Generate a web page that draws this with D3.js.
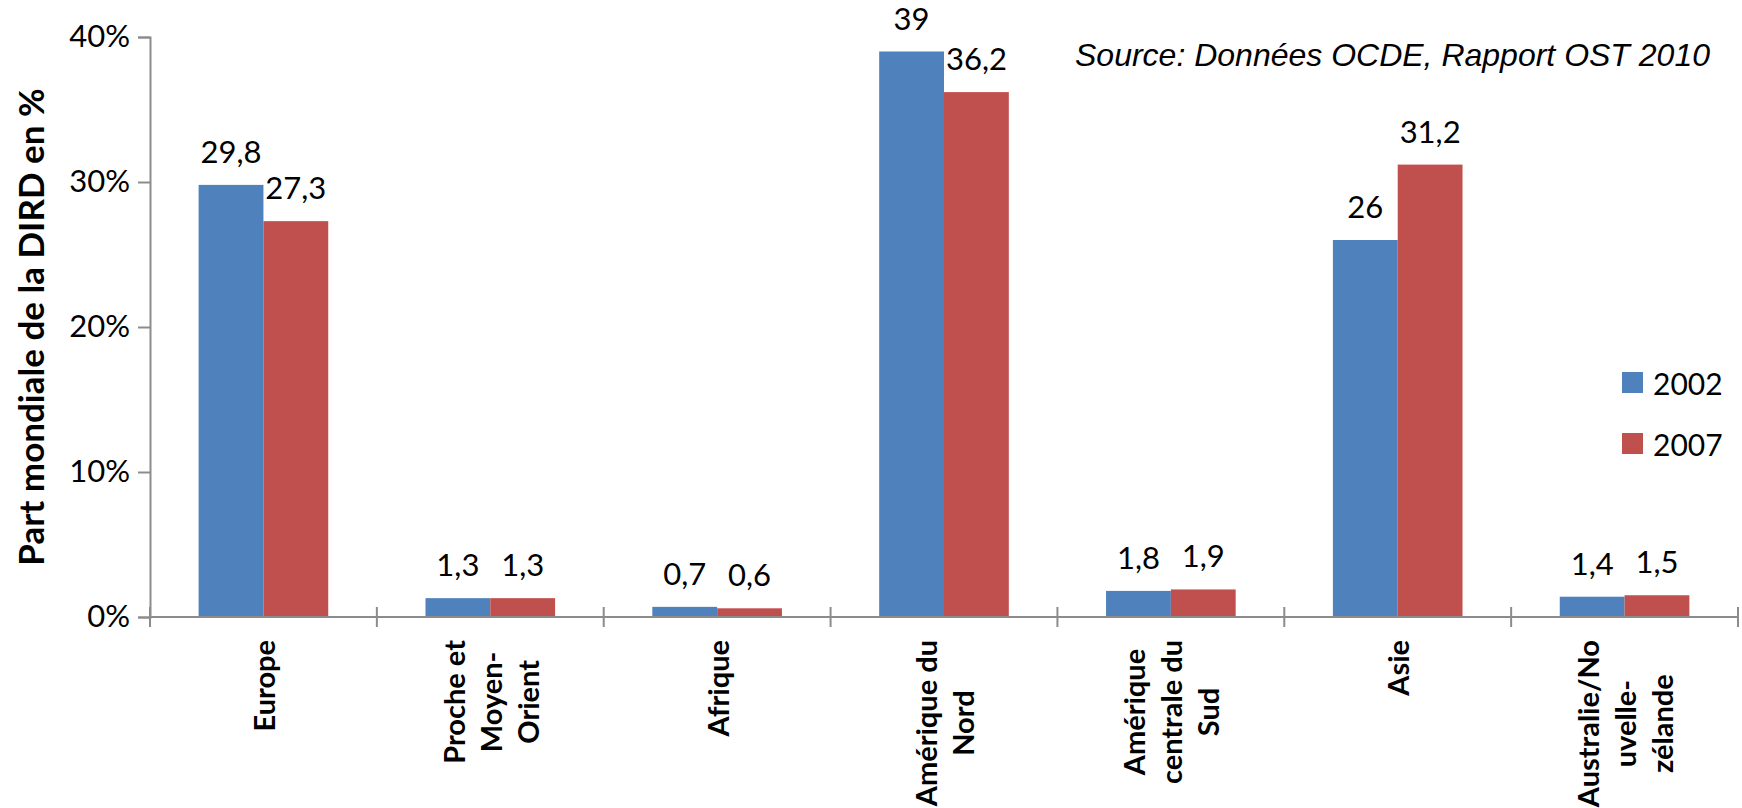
<!DOCTYPE html>
<html>
<head>
<meta charset="utf-8">
<script src="https://cdn.jsdelivr.net/npm/d3@7"></script>
<style>
  body { margin: 0; background: #fff; }
  svg { display: block; font-family: Lato, "Open Sans", sans-serif; }
</style>
</head>
<body>
<svg id="chart" width="1742" height="808"></svg>
<script>
// chart values
var categories = ["Europe", "Proche et\nMoyen-\nOrient", "Afrique", "Amérique du\nNord",
                  "Amérique\ncentrale du\nSud", "Asie", "Australie/No\nuvelle-\nzélande"];
var series = ["2002", "2007"];
var values2002 = [29.8, 1.3, 0.7, 39, 1.8, 26, 1.4];
var values2007 = [27.3, 1.3, 0.6, 36.2, 1.9, 31.2, 1.5];
var yTicks = [0, 10, 20, 30, 40];
var colors = ["#4F81BD", "#C0504D"];
var yTitle = "Part mondiale de la DIRD en %";
var sourceText = "Source: Données OCDE, Rapport OST 2010";

(function() {
var rows = categories.map(function(c, i) {
    return {cat: c, vals: [values2002[i], values2007[i]]};
});

var svg = d3.select("#chart");
var plotL = 150, plotR = 1738, plotT = 37, plotB = 617;
var axisColor = "#8c8c8c";

var x = d3.scaleBand().domain(categories).range([plotL, plotR]).padding(0);
var bw = x.bandwidth();
var gap = bw * 1.5 / 3.5;
var x1 = d3.scaleBand().domain(series).range([gap / 2, bw - gap / 2]).padding(0);
var y = d3.scaleLinear().domain([0, 40]).range([plotB, plotT]);

// bars
var groups = svg.selectAll(".grp")
    .data(rows)
    .enter().append("g")
    .attr("class", "grp")
    .attr("transform", function(d) { return "translate(" + x(d.cat) + ",0)"; });

groups.selectAll("rect")
    .data(function(d) { return d.vals.map(function(v, i) { return {s: series[i], v: v, i: i}; }); })
    .enter().append("rect")
    .attr("x", function(d) { return x1(d.s); })
    .attr("width", x1.bandwidth())
    .attr("y", function(d) { return y(d.v); })
    .attr("height", function(d) { return plotB - y(d.v); })
    .attr("fill", function(d) { return colors[d.i]; });

// data labels
groups.selectAll("text.lbl")
    .data(function(d) { return d.vals.map(function(v, i) { return {s: series[i], v: v}; }); })
    .enter().append("text")
    .attr("class", "lbl")
    .attr("x", function(d) { return x1(d.s) + x1.bandwidth() / 2; })
    .attr("y", function(d) { return y(d.v) - 22; })
    .attr("text-anchor", "middle")
    .attr("font-size", "31px")
    .attr("fill", "#000")
    .text(function(d) { return String(d.v).replace(".", ","); });

// y axis
var yAxis = svg.append("g")
    .attr("transform", "translate(" + plotL + ",0)")
    .call(d3.axisLeft(y).tickValues(yTicks).tickSize(12).tickPadding(8)
        .tickFormat(function(d) { return d + "%"; }));
yAxis.select(".domain").attr("stroke", axisColor).attr("stroke-width", 2);
yAxis.selectAll(".tick line").attr("stroke", axisColor).attr("stroke-width", 2);
yAxis.selectAll(".tick text")
    .attr("font-size", "31px")
    .attr("font-family", "Lato, sans-serif")
    .attr("fill", "#000");

// x axis baseline + crossing ticks at band edges
var xAxis = svg.append("g");
xAxis.append("line")
    .attr("x1", plotL).attr("x2", plotR)
    .attr("y1", plotB).attr("y2", plotB)
    .attr("stroke", axisColor).attr("stroke-width", 2);
var edges = categories.map(function(c) { return x(c); }).concat([plotR]);
xAxis.selectAll(".xt")
    .data(edges)
    .enter().append("line")
    .attr("x1", function(d) { return d; }).attr("x2", function(d) { return d; })
    .attr("y1", plotB - 10).attr("y2", plotB + 10)
    .attr("stroke", axisColor).attr("stroke-width", 2);

// category labels, rotated, lines centred on the longest line
var labTop = 640, lineGap = 37;
categories.forEach(function(c) {
    var lines = c.split("\n");
    var cx = x(c) + bw / 2;
    var g = svg.append("g");
    var texts = lines.map(function(l) {
        return g.append("text")
            .attr("font-size", "29px")
            .attr("font-weight", "bold")
            .attr("text-anchor", "middle")
            .attr("dominant-baseline", "central")
            .attr("fill", "#000")
            .text(l);
    });
    var maxLen = d3.max(texts, function(t) { return t.node().getComputedTextLength(); });
    var cy = labTop + maxLen / 2;
    texts.forEach(function(t, k) {
        var lx = cx + (k - (lines.length - 1) / 2) * lineGap;
        t.attr("transform", "translate(" + lx + "," + cy + ") rotate(-90)");
    });
});

// y title
svg.append("text")
    .attr("transform", "translate(30," + ((plotT + plotB) / 2) + ") rotate(-90)")
    .attr("text-anchor", "middle")
    .attr("dominant-baseline", "central")
    .attr("font-size", "35px")
    .attr("font-weight", "bold")
    .attr("fill", "#000")
    .text(yTitle);

// source note
svg.append("text")
    .attr("x", 1075).attr("y", 66)
    .attr("font-family", "'Liberation Sans', Arial, sans-serif")
    .attr("font-style", "italic")
    .attr("font-size", "32px")
    .attr("fill", "#000")
    .text(sourceText);

// legend
var legend = svg.selectAll(".leg")
    .data(series)
    .enter().append("g")
    .attr("class", "leg")
    .attr("transform", function(d, i) { return "translate(1622," + (372 + i * 61) + ")"; });
legend.append("rect")
    .attr("width", 21).attr("height", 21)
    .attr("fill", function(d, i) { return colors[i]; });
legend.append("text")
    .attr("x", 31).attr("y", 10.5)
    .attr("dominant-baseline", "central")
    .attr("font-size", "30px")
    .attr("fill", "#000")
    .text(function(d) { return d; });
})();
</script>
</body>
</html>
